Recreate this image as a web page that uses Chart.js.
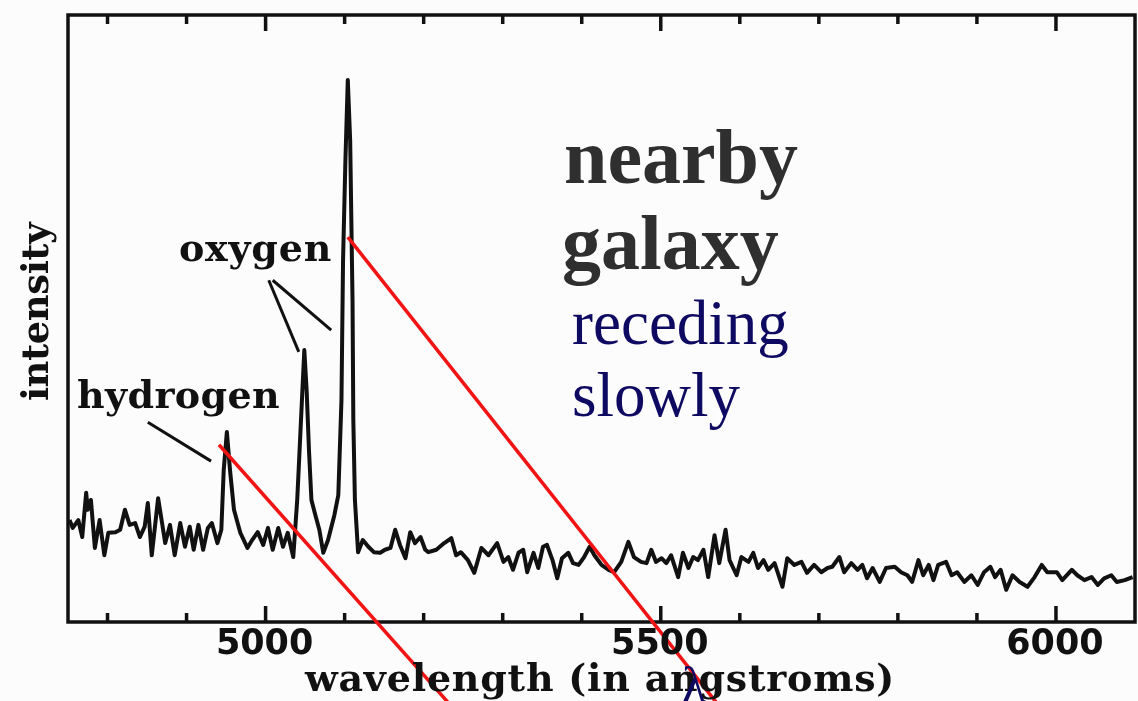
<!DOCTYPE html>
<html lang="en">
<head>
<meta charset="utf-8" />
<title>Nearby galaxy spectrum</title>
<script src="https://cdn.jsdelivr.net/npm/chart.js@4.4.1/dist/chart.umd.min.js"></script>
<style>
  html, body { margin: 0; padding: 0; background: #fcfcfc; }
  #wrap { width: 1138px; height: 701px; }
</style>
</head>
<body>
<div id="wrap"><canvas id="spectrum" width="1138" height="701"></canvas></div>
<script>
  // wavelength (angstroms) and intensity (arbitrary units, 0-100)
  const wavelengths = [
    4752,4756,4763,4768,4773,4775,4779,4784,4790,4796,
    4801,4810,4816,4822,4828,4835,4841,4847,4851,4856,
    4864,4869,4873,4879,4885,4892,4898,4904,4909,4915,
    4921,4927,4932,4939,4944,4947,4951,4955,4960,4968,
    4977,4983,4990,4997,5003,5009,5016,5022,5028,5035,
    5040,5042,5046,5049,5052,5055,5058,5063,5068,5073,
    5079,5087,5092,5096,5098,5101,5104,5107,5110,5111,
    5113,5117,5123,5130,5137,5145,5151,5158,5164,5170,
    5177,5183,5189,5196,5202,5206,5216,5226,5235,5241,
    5247,5256,5264,5273,5282,5293,5301,5307,5313,5320,
    5326,5331,5339,5345,5351,5356,5363,5369,5375,5383,
    5389,5396,5403,5410,5416,5425,5434,5441,5450,5459,
    5466,5475,5482,5488,5494,5501,5507,5513,5522,5528,
    5535,5541,5547,5554,5560,5568,5574,5582,5587,5596,
    5602,5611,5617,5623,5630,5636,5644,5654,5660,5669,
    5678,5685,5694,5703,5711,5717,5726,5732,5741,5749,
    5755,5761,5768,5777,5785,5796,5804,5812,5818,5826,
    5832,5839,5845,5851,5861,5868,5875,5884,5893,5901,
    5909,5917,5923,5930,5937,5945,5954,5964,5973,5982,
    5989,6001,6008,6020,6027,6036,6045,6053,6061,6070,
    6077,6087,6097
  ];
  const intensity = [
    16.8,15.5,16.8,14.0,21.3,18.5,20.1,12.2,16.8,11.0,
    14.7,14.8,15.2,18.5,16.0,16.3,14.0,15.7,19.6,11.0,
    20.4,16.3,13.0,16.0,11.0,16.3,12.4,15.7,11.9,16.0,
    11.9,15.5,16.3,13.0,15.2,25.0,31.3,25.0,18.5,14.7,
    12.2,13.5,14.8,12.7,15.5,11.9,15.5,12.4,14.7,10.7,
    20.1,25.5,36.6,44.8,38.0,28.0,20.1,17.6,15.2,11.4,
    13.5,17.6,20.9,36.6,59.6,76.1,89.3,79.4,53.0,33.3,
    20.1,11.5,13.5,12.4,11.5,11.4,11.9,12.2,15.2,12.7,
    10.5,14.8,13.0,14.0,11.9,11.5,11.9,13.0,13.8,11.0,
    11.5,10.2,8.1,12.2,11.0,13.0,9.9,10.7,8.6,11.4,
    11.9,8.2,11.4,8.9,12.4,12.7,10.2,7.2,10.5,11.4,
    9.7,9.4,10.7,12.4,11.0,9.4,8.6,8.2,9.9,13.2,
    10.7,9.9,9.7,11.9,9.9,10.5,9.7,11.0,7.4,11.4,
    8.9,10.7,10.2,11.9,7.4,14.3,9.7,15.2,10.2,7.7,
    10.7,9.9,11.4,8.9,10.2,8.6,9.7,5.8,10.5,9.4,
    9.9,8.1,9.4,8.2,8.9,9.1,10.7,8.2,9.7,8.6,
    9.4,7.2,8.9,6.6,8.9,9.1,8.2,7.7,6.6,10.2,
    7.7,9.4,6.9,9.4,9.9,7.7,8.2,6.6,7.7,6.1,
    8.2,9.1,7.4,8.6,5.3,7.7,6.6,5.8,7.4,9.4,
    8.2,8.2,6.9,8.6,7.7,6.9,7.4,6.1,7.2,7.7,
    6.6,6.9,7.4
  ];
  const majorTicks = [5000, 5500, 6000];
  const minorTicks = [4800, 4900, 5100, 5200, 5300, 5400, 5600, 5700, 5800, 5900];
  const tickLabels = ['5000', '5500', '6000'];

  // annotation pointers in data units: [wavelength0, intensity0, wavelength1, intensity1]
  const leaders = [[4851, 32.9, 4931, 26.5], [5004, 56.3, 5042, 44.5], [5009, 56.3, 5083, 48.1]];
  const redPointers = [[4941, 29.2, 5234, -13.7], [5104, 63.4, 5573, -13.7]];

  // draws text stretched to a target width with letter spacing
  function fitText(ctx, text, x, y, width) {
    ctx.letterSpacing = '0px';
    const w = ctx.measureText(text).width;
    ctx.letterSpacing = ((width - w) / text.length).toFixed(2) + 'px';
    ctx.fillText(text, x, y);
    ctx.letterSpacing = '0px';
  }

  function segment(ctx, x, y, s) {
    ctx.beginPath();
    ctx.moveTo(x.getPixelForValue(s[0]), y.getPixelForValue(s[1]));
    ctx.lineTo(x.getPixelForValue(s[2]), y.getPixelForValue(s[3]));
    ctx.stroke();
  }

  const specFrame = {
    id: 'specFrame',
    beforeDraw(chart) {
      const ctx = chart.ctx;
      ctx.save();
      ctx.fillStyle = '#fcfcfc';
      ctx.fillRect(0, 0, chart.width, chart.height);
      ctx.restore();
    },
    afterDatasetsDraw(chart) {
      const { ctx, chartArea: a, scales: { x, y } } = chart;
      ctx.save();
      ctx.strokeStyle = '#111';
      ctx.lineCap = 'butt';

      // leader lines for the line names
      ctx.lineWidth = 3;
      leaders.forEach(s => segment(ctx, x, y, s));

      // box and inward ticks
      ctx.lineWidth = 3.5;
      ctx.strokeRect(a.left, a.top, a.width, a.height);
      const tick = (v, len) => {
        const px = x.getPixelForValue(v);
        ctx.beginPath();
        ctx.moveTo(px, a.bottom); ctx.lineTo(px, a.bottom - len);
        ctx.moveTo(px, a.top); ctx.lineTo(px, a.top + len);
        ctx.stroke();
      };
      minorTicks.forEach(v => tick(v, 9));
      majorTicks.forEach(v => tick(v, 16));

      // red pointers
      ctx.strokeStyle = '#f01414';
      ctx.lineWidth = 3.5;
      redPointers.forEach(s => segment(ctx, x, y, s));
      ctx.restore();
    },
    afterDraw(chart) {
      const { ctx, chartArea: a, scales: { x } } = chart;
      ctx.save();
      ctx.fillStyle = '#111';
      ctx.textAlign = 'center';
      ctx.textBaseline = 'alphabetic';

      ctx.font = 'bold 35px "DejaVu Sans"';
      majorTicks.forEach((v, i) => ctx.fillText(tickLabels[i], x.getPixelForValue(v) - 1, a.bottom + 32));

      ctx.font = 'bold 38px "DejaVu Serif"';
      ctx.textAlign = 'left';
      fitText(ctx, 'wavelength (in angstroms)', 305, 691, 590);

      ctx.save();
      ctx.translate(48, 401);
      ctx.rotate(-Math.PI / 2);
      ctx.font = 'bold 37px "DejaVu Serif"';
      fitText(ctx, 'intensity', 0, 0, 178);
      ctx.restore();

      ctx.font = 'bold 38px "DejaVu Serif"';
      fitText(ctx, 'hydrogen', 77, 408, 203);
      fitText(ctx, 'oxygen', 179, 261, 153);

      ctx.fillStyle = '#2f2f2f';
      ctx.font = 'bold 78px "Liberation Serif"';
      ctx.fillText('nearby', 564, 183);
      ctx.fillText('galaxy', 562, 269);

      ctx.fillStyle = '#0e0a62';
      ctx.font = '63px "Liberation Serif"';
      ctx.fillText('receding', 572, 344);
      ctx.fillText('slowly', 572, 416);
      ctx.font = '50px "Liberation Serif"';
      ctx.fillText('λ', 682, 702);
      ctx.restore();
    }
  };

  new Chart(document.getElementById('spectrum'), {
    type: 'line',
    data: {
      datasets: [{
        data: wavelengths.map((w, i) => ({ x: w, y: intensity[i] })),
        borderColor: '#111',
        borderWidth: 4,
        borderJoinStyle: 'round',
        pointRadius: 0,
        tension: 0,
        fill: false
      }]
    },
    options: {
      responsive: false,
      animation: false,
      events: [],
      layout: { padding: { left: 68, right: 3, top: 15, bottom: 79 } },
      scales: {
        x: { type: 'linear', min: 4750, max: 6100, display: false },
        y: { min: 0, max: 100, display: false }
      },
      plugins: { legend: { display: false }, tooltip: { enabled: false } }
    },
    plugins: [specFrame]
  });
</script>
</body>
</html>
